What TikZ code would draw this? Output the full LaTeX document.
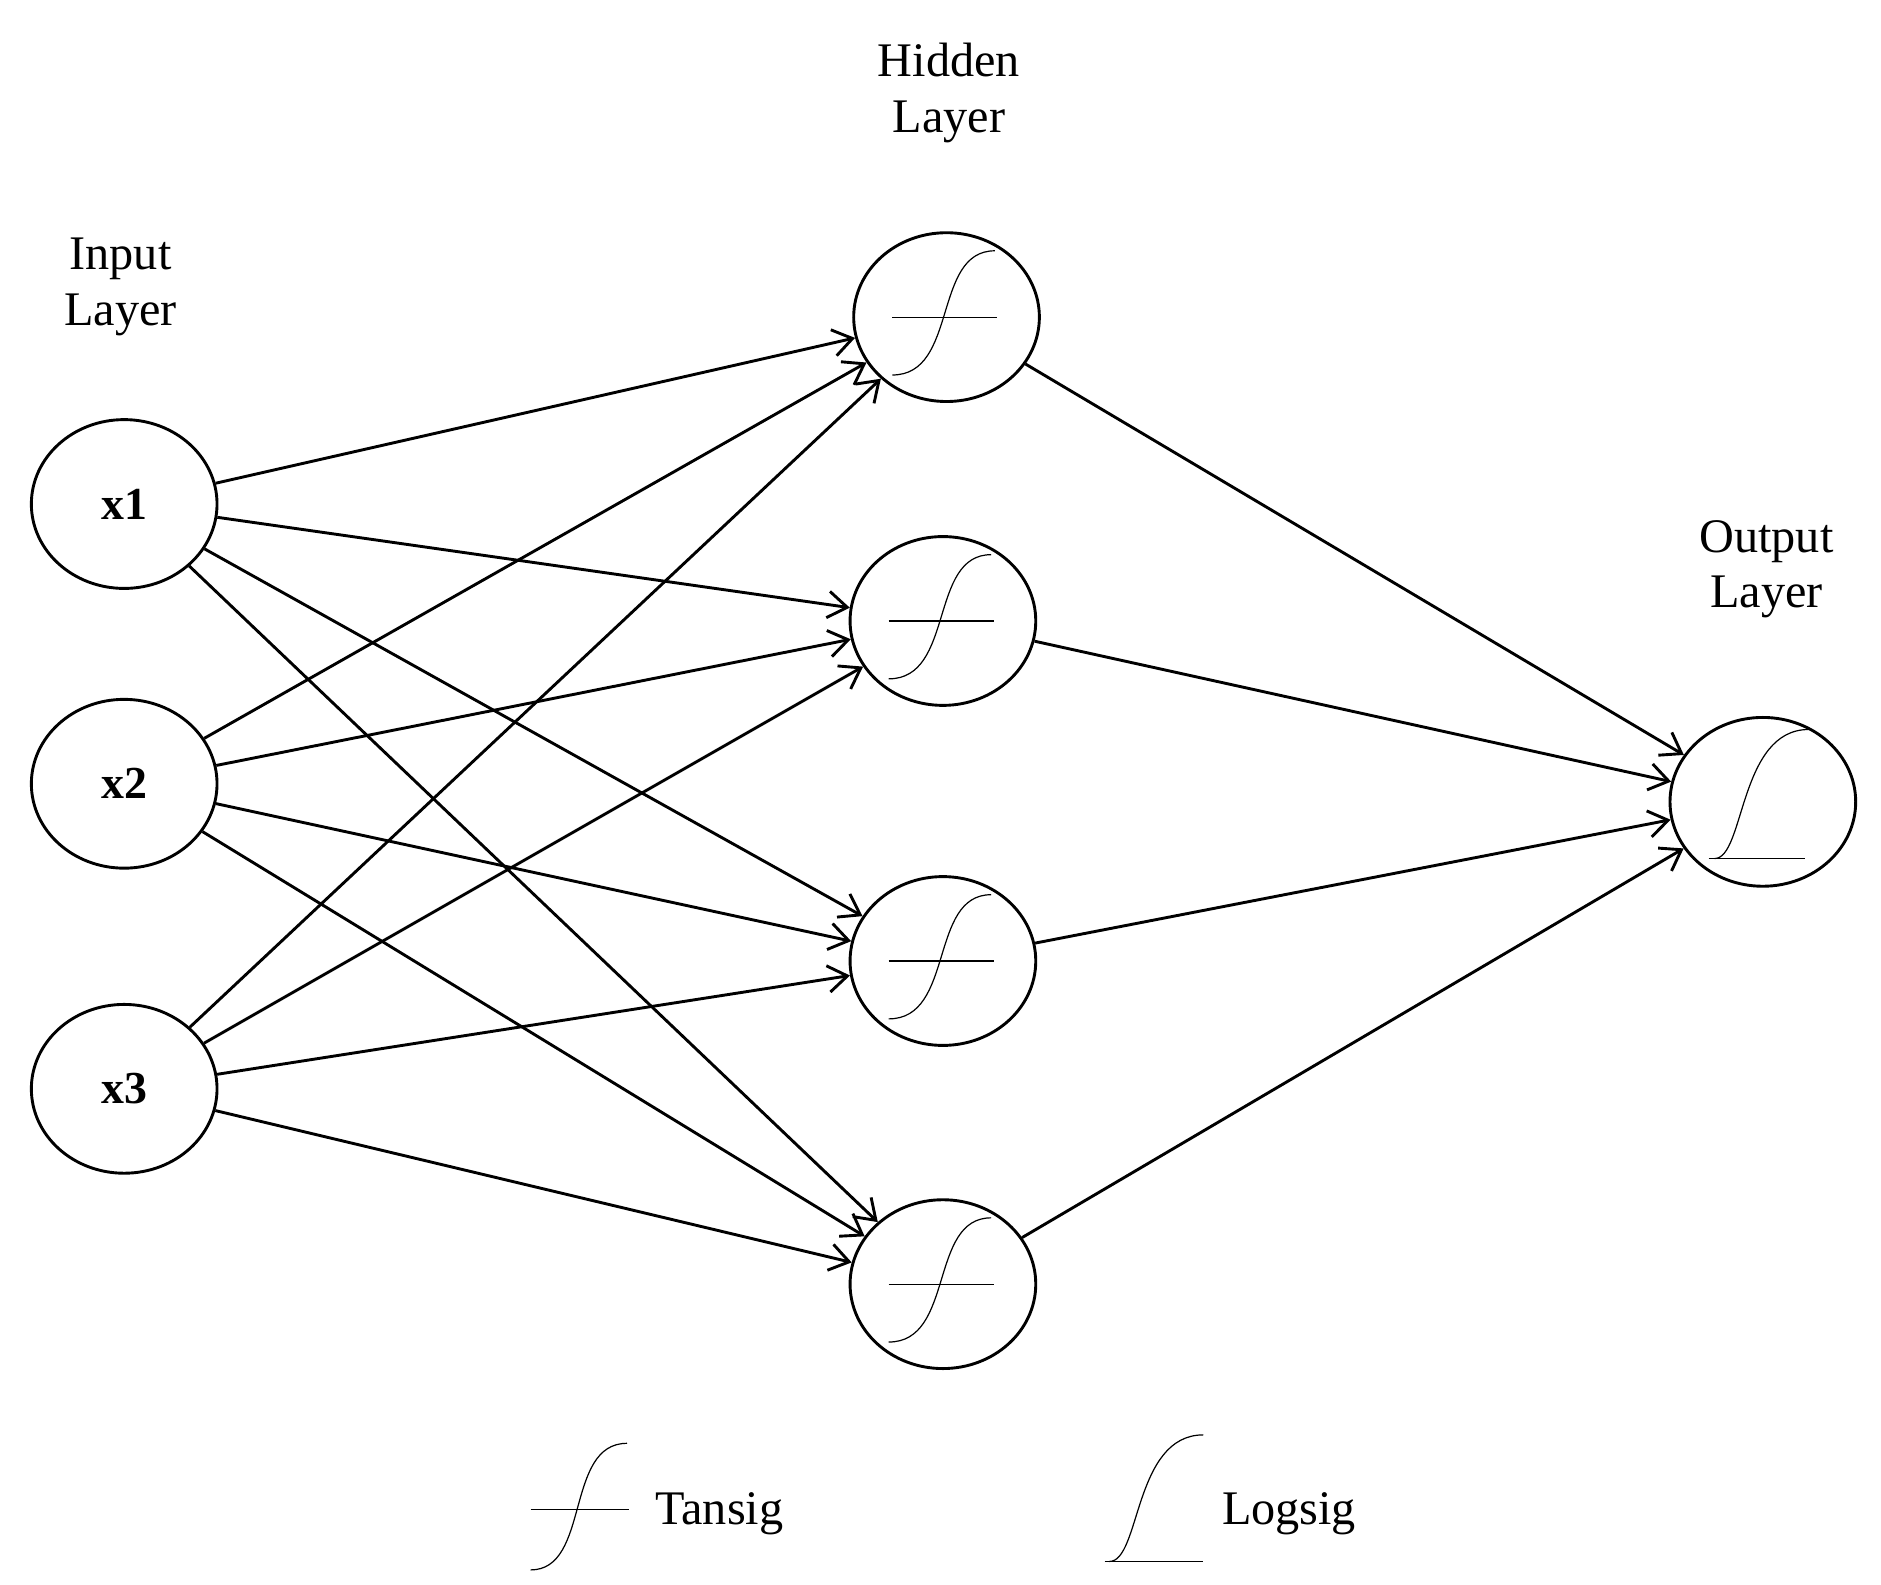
\documentclass[tikz,border=0pt]{standalone}
\usepackage{fontspec}
\setmainfont{Liberation Serif}
\usetikzlibrary{arrows.meta,shapes.geometric}
\begin{document}
\begin{tikzpicture}[x=1pt,y=-1pt,
  neuron/.style={ellipse,draw,line width=2.4pt,minimum width=154pt,minimum height=140pt,inner sep=0pt},
  lbl/.style={font=\fontsize{40}{46}\selectfont,align=center},
  edge/.style={line width=2.4pt,-{Straight Barb[length=16pt,width=22pt,line width=2.4pt]}},
  sig/.style={line width=1pt}]
\useasboundingbox (0,0) rectangle (1560,1314);
\node[neuron,font=\fontsize{38}{44}\selectfont\bfseries] (i1) at (103,418) {x1};
\node[neuron,font=\fontsize{38}{44}\selectfont\bfseries] (i2) at (103,650) {x2};
\node[neuron,font=\fontsize{38}{44}\selectfont\bfseries] (i3) at (103,903) {x3};
\node[neuron] (h1) at (785,263) {};
\node[neuron] (h2) at (782,515) {};
\node[neuron] (h3) at (782,797) {};
\node[neuron] (h4) at (782,1065) {};
\node[neuron] (o) at (1462,665) {};
\node[lbl] (li) at (100,238) {Input\\Layer};
\node[lbl] (lh) at (787,77) {Hidden\\Layer};
\node[lbl] (lo) at (1465,472) {Output\\Layer};
\foreach \i in {i1,i2,i3}{\foreach \h in {h1,h2,h3,h4}{\draw[edge] (\i) -- (\h);}}
\foreach \h in {h1,h2,h3,h4}{\draw[edge] (\h) -- (o);}
% tansig symbols
\foreach \h in {h1,h2,h3,h4}{
  \draw[sig] ([xshift=-45pt]\h.center) -- ([xshift=42pt]\h.center);
  \draw[sig] ([xshift=-45pt,yshift=-48pt]\h.center) .. controls ([xshift=10pt,yshift=-48pt]\h.center) and ([xshift=-12pt,yshift=55pt]\h.center) .. ([xshift=40pt,yshift=55pt]\h.center);
}
% logsig in output
\draw[sig] ([xshift=-45pt,yshift=-47pt]o.center) -- ([xshift=35pt,yshift=-47pt]o.center);
\draw[sig] ([xshift=-40pt,yshift=-47pt]o.center) .. controls ([xshift=-15pt,yshift=-47pt]o.center) and ([xshift=-20pt,yshift=60pt]o.center) .. ([xshift=38pt,yshift=60pt]o.center);
% legend
\coordinate (t) at (480,1252);
\draw[sig] ([xshift=-40pt]t) -- ([xshift=42pt]t);
\draw[sig] ([xshift=-40pt,yshift=-50pt]t) .. controls ([xshift=10pt,yshift=-50pt]t) and ([xshift=-12pt,yshift=55pt]t) .. ([xshift=40pt,yshift=55pt]t);
\node[lbl,anchor=west] (tl) at (540,1255) {Tansig};
\coordinate (l) at (958,1295);
\draw[sig] ([xshift=-42pt]l) -- ([xshift=40pt]l);
\draw[sig] ([xshift=-38pt]l) .. controls ([xshift=-12pt]l) and ([xshift=-18pt,yshift=105pt]l) .. ([xshift=40pt,yshift=105pt]l);
\node[lbl,anchor=west] (ll) at (1010,1255) {Logsig};
\end{tikzpicture}
\end{document}
